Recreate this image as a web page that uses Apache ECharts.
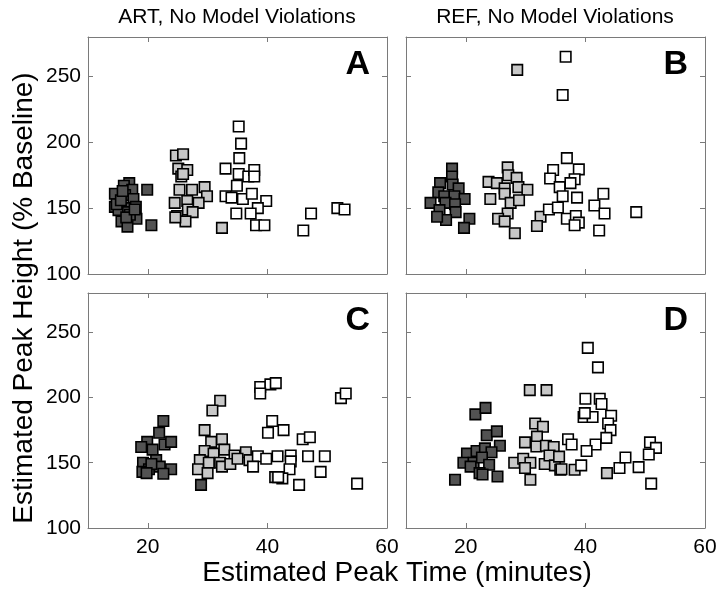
<!DOCTYPE html>
<html><head><meta charset="utf-8">
<script src="https://cdn.jsdelivr.net/npm/echarts@6/dist/echarts.min.js"></script>
<style>html,body{margin:0;padding:0;background:#fff}#c{width:726px;height:596px}</style>
</head><body><div id="c"></div>
<script>
// Tick labels
const xTickLabels = [20, 40, 60];
const xTickMarks = [20, 40];
const yTickLabels = [100, 150, 200, 250];
const yTickMarks = [150, 200, 250];
const panelTitles = ['ART, No Model Violations', 'REF, No Model Violations'];
const panelLetters = ['A', 'B', 'C', 'D'];
const xAxisTitle = 'Estimated Peak Time (minutes)';
const yAxisTitle = 'Estimated Peak Height (% Baseline)';

// Panel A: [peak time, peak height]
const A_dark = [[16.9,169],[16.0,167],[17.4,164],[14.5,161],[16.2,160],[19.9,164],[17.6,157],[14.5,151],[16.2,150],[18.0,151],[15.1,148.5],[16.7,147],[18.1,142],[15.6,140],[16.6,136],[20.6,137],[14.8,153],[17.0,145],[15.5,156],[16.4,143],[17.8,149],[15.8,163]];
const A_light = [[24.7,190],[25.9,191],[25.1,180],[26.6,179],[25.6,174],[25.9,176],[25.3,164],[27.4,164],[29.5,166],[29.9,159],[28.5,154],[26.6,155.5],[24.5,154],[26.7,149],[27.5,147],[24.9,144],[26.3,140],[32.4,135],[24.6,143]];
const A_white = [[35.2,212],[35.6,199],[35.3,188],[33.0,180],[35.2,176],[36.8,174],[37.8,179],[37.8,174],[34.9,167],[33.0,159],[35.9,157],[37.4,161],[39.8,155.5],[38.4,150],[37.2,146],[34.8,146],[38.1,137],[39.5,137],[47.3,146],[46.0,133],[51.7,150],[52.9,149],[34.0,158]];
// Panel B
const B_dark = [[17.7,180],[17.7,174],[15.7,169],[17.8,168],[18.8,165],[15.4,162],[16.4,159],[18.1,159],[19.8,157],[14.1,154],[16.6,154],[18.2,153],[15.6,148.5],[18.3,147],[16.7,141],[20.6,142],[19.7,135],[15.2,143.5]];
const B_light = [[28.6,255],[27.0,181],[27.1,175],[23.8,170],[25.2,169],[28.5,173],[26.5,165],[28.8,166],[30.3,164],[26.5,161],[24.1,157],[27.5,154],[28.9,156],[27.0,146],[25.4,142],[26.5,140],[28.2,131],[32.5,143.5],[31.9,136.5]];
const B_white = [[36.7,265],[36.2,236],[36.9,188],[34.6,179],[38.9,179.5],[34.1,172.5],[38.2,172],[35.7,166],[37.5,169],[36.2,159],[38.6,158],[33.9,149],[35.4,150.5],[36.9,142],[38.4,144],[38.9,139],[38.2,137],[43.0,161],[41.5,152],[43.2,146],[42.3,133],[48.5,147]];
// Panel C
const C_dark = [[22.6,182],[21.9,173],[19.9,166],[18.9,162],[22.8,164],[23.9,166],[20.8,160],[19.2,150],[21.4,152],[20.2,145],[22.0,147],[23.9,145],[19.1,143],[22.6,141.5],[20.6,149],[19.8,142],[28.9,133]];
const C_light = [[32.1,197.5],[30.8,190],[29.5,175],[30.6,166],[32.4,168],[29.5,159],[31.0,157],[32.8,160],[34.5,155.5],[28.7,152],[30.2,150],[32.1,150],[28.4,145],[30.0,142],[32.4,147],[33.8,149],[36.4,158],[35.0,153],[37.0,152],[41.3,139]];
const C_white = [[38.8,208],[40.5,210],[41.4,211],[38.8,203],[52.3,199.5],[53.1,203],[40.8,182],[40.1,173],[42.7,175],[45.9,168],[47.1,169.5],[38.4,155],[39.8,153],[41.7,155],[43.9,155.5],[43.9,151],[46.8,155],[49.6,155],[37.6,147],[43.7,145],[48.9,143],[42.5,138],[45.3,133],[55.0,134],[41.8,139]];
// Panel D
const D_dark = [[18.2,137],[21.6,187],[23.3,192],[23.5,171],[25.2,174],[25.7,163],[20.2,157],[21.8,159],[23.2,161],[24.3,158],[19.6,150],[21.3,150],[22.7,154],[23.9,148.5],[20.8,147],[22.3,142],[22.8,141],[25.3,139.5]];
const D_light = [[30.7,205.6],[33.5,205.6],[31.6,180],[32.9,177.6],[29.9,165.6],[31.9,170],[31.8,162.4],[33.4,163],[34.7,162],[28.1,150],[29.6,153],[30.8,150],[29.9,146],[33.2,149],[34.0,155.5],[34.9,148],[35.8,144.6],[30.8,137],[35.6,154.7],[36.0,145],[38.2,144.6],[43.6,142]];
const D_white = [[40.4,238],[42.1,223],[40.0,199],[42.4,199],[42.7,195],[39.7,185],[41.2,185],[44.3,186],[43.8,180],[44.2,175],[43.5,169],[41.7,164],[40.2,159],[37.1,168],[37.7,164],[39.3,148],[45.7,146],[46.7,154],[48.9,146.6],[50.8,165.6],[51.8,161.4],[50.6,156.3],[51.0,134],[39.9,188]];

const panels = [
  [A_dark, A_light, A_white],
  [B_dark, B_light, B_white],
  [C_dark, C_light, C_white],
  [D_dark, D_light, D_white]
];
const groupColors = ['#525252', '#c8c8c8', '#ffffff'];

const FONT = 'Liberation Sans, Arial, Helvetica, sans-serif';
const frame = '#7a7a7a';
const grids = [
  {left: 88, top: 37, width: 299, height: 237},
  {left: 406, top: 37, width: 299, height: 237},
  {left: 88, top: 293, width: 299, height: 235},
  {left: 406, top: 293, width: 299, height: 235}
];

const xAxes = [], yAxes = [], series = [];
grids.forEach((g, i) => {
  const showX = i >= 2, showY = i % 2 === 0;
  ['bottom', 'top'].forEach((pos, k) => {
    xAxes.push({
      gridIndex: i, type: 'value', min: 10, max: 60, position: pos,
      axisLine: {show: true, onZero: false, lineStyle: {color: frame, width: 1}},
      axisTick: {show: true, inside: true, length: 5, customValues: xTickMarks, lineStyle: {color: frame}},
      axisLabel: {show: showX && k === 0, customValues: xTickLabels, fontSize: 21, color: '#000', fontFamily: FONT, margin: 9},
      splitLine: {show: false}
    });
  });
  ['left', 'right'].forEach((pos, k) => {
    yAxes.push({
      gridIndex: i, type: 'value', min: 100, max: 280, position: pos,
      axisLine: {show: true, onZero: false, lineStyle: {color: frame, width: 1}},
      axisTick: {show: true, inside: true, length: 5, customValues: yTickMarks, lineStyle: {color: frame}},
      axisLabel: {show: showY && k === 0, customValues: yTickLabels, fontSize: 21, color: '#000', fontFamily: FONT, margin: 7},
      splitLine: {show: false}
    });
  });
  panels[i].forEach((data, j) => {
    series.push({
      type: 'scatter', xAxisIndex: 2 * i, yAxisIndex: 2 * i, data: data,
      symbol: 'rect', symbolSize: 10.5, silent: true, z: 2 + j,
      itemStyle: {color: groupColors[j], borderColor: '#000', borderWidth: 1.6, opacity: 1}
    });
  });
});

const graphics = [];
panelTitles.forEach((t, i) => {
  graphics.push({type: 'text', x: i === 0 ? 237 : 555, y: 17,
    style: {text: t, font: '21px ' + FONT, fill: '#000', textAlign: 'center', textVerticalAlign: 'middle'}});
});
panelLetters.forEach((t, i) => {
  const g = grids[i];
  graphics.push({type: 'text', x: g.left + g.width - 17, y: g.top + 28,
    style: {text: t, font: 'bold 34px ' + FONT, fill: '#000', textAlign: 'right', textVerticalAlign: 'middle'}});
});
graphics.push({type: 'text', x: 397, y: 573,
  style: {text: xAxisTitle, font: '28px ' + FONT, fill: '#000', textAlign: 'center', textVerticalAlign: 'middle'}});
graphics.push({type: 'text', x: 24, y: 298, rotation: Math.PI / 2,
  style: {text: yAxisTitle, font: '28px ' + FONT, fill: '#000', textAlign: 'center', textVerticalAlign: 'middle'}});

const chart = echarts.init(document.getElementById('c'), null, {renderer: 'canvas'});
chart.setOption({
  animation: false,
  backgroundColor: '#fff',
  grid: grids,
  xAxis: xAxes,
  yAxis: yAxes,
  series: series,
  graphic: graphics
});
</script></body></html>
